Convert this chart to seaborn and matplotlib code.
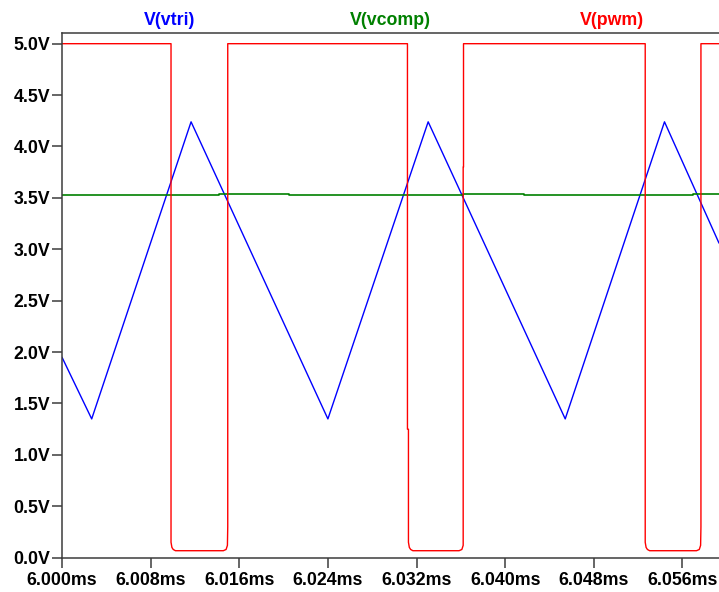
import numpy as np
import pandas as pd
import seaborn as sns
import matplotlib.pyplot as plt

sns.set_style("white")
plt.rcParams["font.family"] = ["Liberation Sans", "DejaVu Sans"]
plt.rcParams["font.weight"] = "bold"

# time in ms, values in volts
vtri_t = [6.000, 6.00268, 6.01165, 6.02400, 6.03305, 6.04542, 6.05438, 6.0593]
vtri_v = [1.95, 1.35, 4.24, 1.35, 4.24, 1.35, 4.24, 3.06]

vcomp_t = [6.000, 6.01418, 6.01418, 6.02050, 6.02050, 6.03620, 6.03620,
           6.04172, 6.04172, 6.05697, 6.05697, 6.0593]
vcomp_v = [3.528, 3.528, 3.538, 3.538, 3.528, 3.528, 3.538,
           3.538, 3.526, 3.526, 3.537, 3.537]

pwm_t = [6.000, 6.00984, 6.00984, 6.00992, 6.01004, 6.01024,
         6.01456, 6.01481, 6.01493, 6.01496, 6.01496, 6.03118,
         6.03118, 6.03127, 6.03127, 6.03135, 6.03147, 6.03167,
         6.03584, 6.03609, 6.03621, 6.03621, 6.03624, 6.03624, 6.05264,
         6.05264, 6.05272, 6.05284, 6.05304,
         6.05727, 6.05752, 6.05764, 6.05767, 6.05767, 6.0593]
pwm_v = [5.0, 5.0, 0.15, 0.10, 0.08, 0.068,
         0.068, 0.08, 0.12, 0.3, 5.0, 5.0,
         1.25, 1.25, 0.15, 0.10, 0.08, 0.068,
         0.068, 0.08, 0.12, 3.80, 3.80, 5.0, 5.0,
         0.15, 0.10, 0.08, 0.068,
         0.068, 0.08, 0.12, 0.3, 5.0, 5.0]

x_ticks = [6.000, 6.008, 6.016, 6.024, 6.032, 6.040, 6.048, 6.056]
y_ticks = [0.0, 0.5, 1.0, 1.5, 2.0, 2.5, 3.0, 3.5, 4.0, 4.5, 5.0]

traces = [
    ("V(vtri)", vtri_t, vtri_v, "#0000ff", 1.0, 170),
    ("V(vcomp)", vcomp_t, vcomp_v, "#008000", 1.2, 390.5),
    ("V(pwm)", pwm_t, pwm_v, "#ff0000", 1.0, 612),
]

W, H = 719, 592
fig = plt.figure(figsize=(W / 100, H / 100), dpi=100)
ax = fig.add_axes([62 / W, (H - 557.7) / H, 1 - 62 / W, (557.7 - 33) / H])

for name, t, v, color, lw, label_x in traces:
    df = pd.DataFrame({"t": t, "v": v})
    sns.lineplot(data=df, x="t", y="v", ax=ax, color=color, linewidth=lw,
                 estimator=None, sort=False)
    fig.text(label_x / W, 1 - 25 / H, name, color=color, fontsize=12.8,
             fontweight="bold", ha="center", va="baseline")

ax.set_xlim(6.000, 6.0593)
ax.set_ylim(0, 5.104)
ax.set_xticks(x_ticks)
ax.set_xticklabels([f"{t:.3f}ms" for t in x_ticks])
ax.set_yticks(y_ticks)
ax.set_yticklabels([f"{v:.1f}V" for v in y_ticks])
ax.set(xlabel="", ylabel="")

ax.spines["right"].set_visible(False)
for s in ["left", "bottom", "top"]:
    ax.spines[s].set_color("#3c3c3c")
    ax.spines[s].set_linewidth(1.1)
ax.tick_params(axis="both", direction="out", length=7, width=1.1,
               color="#3c3c3c", labelsize=12.8, labelcolor="black")
ax.tick_params(axis="y", pad=1.5, left=True)
ax.tick_params(axis="x", pad=3.0, bottom=True)
for lab in ax.get_xticklabels() + ax.get_yticklabels():
    lab.set_fontweight("bold")

fig.savefig("out.png", dpi=100)
